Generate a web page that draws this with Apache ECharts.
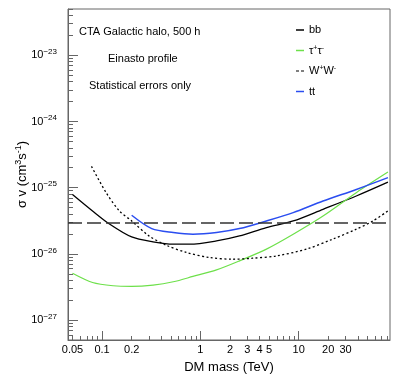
<!DOCTYPE html>
<html>
<head>
<meta charset="utf-8">
<script src="https://cdn.jsdelivr.net/npm/echarts@6/dist/echarts.min.js"></script>
<style>
  html, body { margin: 0; padding: 0; background: #fff; }
  #chart { width: 407px; height: 380px; }
</style>
</head>
<body>
<div id="chart"></div>
<script>
// values (mass in TeV, sigma v in cm^3 s^-1)
const bbMass = [0.05, 0.08, 0.12, 0.2, 0.33, 0.53, 0.78, 1.46, 2.5, 4.7, 8.8, 17.7, 38.6, 81];
const bbSv = [7.9e-26, 4.45e-26, 2.8e-26, 1.8e-26, 1.52e-26, 1.4e-26, 1.4e-26, 1.57e-26, 1.87e-26, 2.5e-26, 3.14e-26, 4.71e-26, 7.48e-26, 1.21e-25];

const tauMass = [0.05, 0.08, 0.13, 0.2, 0.33, 0.53, 0.84, 1.46, 2.5, 4.7, 8.8, 17.7, 38.6, 81];
const tauSv = [5.1e-27, 3.7e-27, 3.3e-27, 3.23e-27, 3.38e-27, 3.79e-27, 4.56e-27, 5.74e-27, 7.85e-27, 1.18e-26, 1.98e-26, 3.73e-26, 8.41e-26, 1.72e-25];

const wwMass = [0.078, 0.11, 0.15, 0.2, 0.3, 0.45, 0.72, 1.24, 2.15, 3.4, 5.9, 12, 22, 38.6, 57, 81];
const wwSv = [2.1e-25, 8.4e-26, 4.45e-26, 3.14e-26, 1.87e-26, 1.35e-26, 1.05e-26, 8.8e-27, 8.3e-27, 8.6e-27, 9.3e-27, 1.18e-26, 1.66e-26, 2.36e-26, 3.14e-26, 4.45e-26];

const ttMass = [0.2, 0.32, 0.53, 0.84, 1.46, 2.5, 4.7, 8.8, 17.7, 38.6, 81];
const ttSv = [3.83e-26, 2.41e-26, 2.1e-26, 1.98e-26, 2.1e-26, 2.41e-26, 3.14e-26, 4.2e-26, 6.28e-26, 9.41e-26, 1.42e-25];

const thermalSv = 3e-26;

const xLabels = [0.05, 0.1, 0.2, 1, 2, 3, 4, 5, 10, 20, 30];
const xMajor = [0.1, 1, 10];
const xMinor = [0.05, 0.06, 0.07, 0.08, 0.09, 0.2, 0.3, 0.4, 0.5, 0.6, 0.7, 0.8, 0.9,
  2, 3, 4, 5, 6, 7, 8, 9, 20, 30, 40, 50, 60, 70, 80];
const yDecades = [1e-27, 1e-26, 1e-25, 1e-24, 1e-23];
const yMinorSteps = [2, 3, 4, 5, 6, 7, 8, 9];

const legendText = {
  bb: '{n|bb}',
  tautau: '{n|τ}{p|+}{n|τ}{p|-}',
  WW: '{n|W}{p|+}{n|W}{p|-}',
  tt: '{n|tt}'
};

// echarts rounds numbers to 20 decimals, so 1e-27 would become 0:
// plot sigma v in units of 1e-28 and shift the exponent back in the labels
const Y_EXP = 28;
const Y_SCALE = Math.pow(10, Y_EXP);
const sy = v => v * Y_SCALE;

const X_MIN = 0.045, X_MAX = 85, Y_MIN = 5e-28, Y_MAX = 5e-23;
const FONT = 'Liberation Sans, Arial, Helvetica, sans-serif';
const AXIS_COLOR = '#666';

const yMinor = [];
[1e-28].concat(yDecades).forEach(d => {
  yMinorSteps.forEach(k => {
    const v = k * d;
    if (v > Y_MIN * 0.999 && v < Y_MAX * 1.001) yMinor.push(sy(v));
  });
});

const zip = (xs, ys) => xs.map((x, i) => [x, sy(ys[i])]);

const chart = echarts.init(document.getElementById('chart'));

const baseX = {
  type: 'log', min: X_MIN, max: X_MAX, gridIndex: 0, position: 'bottom',
  splitLine: { show: false }
};
const baseY = {
  type: 'log', min: sy(Y_MIN), max: sy(Y_MAX), gridIndex: 0, position: 'left',
  splitLine: { show: false }
};

chart.setOption({
  animation: false,
  backgroundColor: '#fff',
  grid: {
    left: 68, top: 9, right: 17, bottom: 40,
    show: true, borderColor: AXIS_COLOR, borderWidth: 1,
    containLabel: false, outerBoundsMode: 'none'
  },
  xAxis: [
    Object.assign({}, baseX, {
      name: 'DM mass (TeV)',
      nameLocation: 'middle',
      nameGap: 21,
      nameMoveOverlap: false,
      nameTextStyle: { fontFamily: FONT, fontSize: 13, color: '#000' },
      axisLine: { show: true, lineStyle: { color: AXIS_COLOR, width: 1 } },
      axisTick: { show: true, inside: true, length: 9, customValues: xMajor, lineStyle: { color: AXIS_COLOR } },
      axisLabel: {
        show: true, customValues: xLabels, margin: 4,
        fontFamily: FONT, fontSize: 11, color: '#000',
        formatter: v => String(+Number(v).toPrecision(3))
      }
    }),
    Object.assign({}, baseX, {
      axisLine: { show: false },
      axisTick: { show: true, inside: true, length: 4, customValues: xMinor, lineStyle: { color: AXIS_COLOR } },
      axisLabel: { show: false }
    })
  ],
  yAxis: [
    Object.assign({}, baseY, {
      name: '{a|σ v (cm}{s|3}{a|s}{s|-1}{a|)}',
      nameLocation: 'middle',
      nameGap: 38,
      nameMoveOverlap: false,
      nameRotate: 90,
      nameTextStyle: {
        fontFamily: FONT, color: '#000',
        rich: {
          a: { fontFamily: FONT, fontSize: 13, color: '#000' },
          s: { fontFamily: FONT, fontSize: 9, color: '#000', padding: [0, 0, 7, 0] }
        }
      },
      axisLine: { show: true, lineStyle: { color: AXIS_COLOR, width: 1 } },
      axisTick: { show: true, inside: true, length: 10, customValues: yDecades.map(sy), lineStyle: { color: AXIS_COLOR } },
      axisLabel: {
        show: true, customValues: yDecades.map(sy), margin: 11,
        formatter: v => '{a|10}{s|−' + Math.abs(Math.round(Math.log10(v)) - Y_EXP) + '}',
        rich: {
          a: { fontFamily: FONT, fontSize: 11, color: '#000' },
          s: { fontFamily: FONT, fontSize: 8, color: '#000', padding: [0, 0, 7, 0] }
        }
      }
    }),
    Object.assign({}, baseY, {
      axisLine: { show: false },
      axisTick: { show: true, inside: true, length: 5, customValues: yMinor, lineStyle: { color: AXIS_COLOR } },
      axisLabel: { show: false }
    })
  ],
  legend: {
    data: [
      { name: 'bb', icon: 'rect' },
      { name: 'tautau', icon: 'rect' },
      { name: 'WW', icon: 'path://M0,0H3V1H0Z M5,0H8V1H5Z' },
      { name: 'tt', icon: 'rect' }
    ],
    orient: 'vertical',
    left: 291, top: 19,
    itemWidth: 8, itemHeight: 1.5, itemGap: 8.5,
    formatter: name => legendText[name],
    textStyle: {
      fontFamily: FONT, fontSize: 11, color: '#000', lineHeight: 12,
      rich: {
        n: { fontFamily: FONT, fontSize: 11, color: '#000', lineHeight: 12 },
        p: { fontFamily: FONT, fontSize: 7, color: '#000', padding: [0, 0, 5, 0] }
      }
    }
  },
  graphic: [
    { type: 'text', left: 79, top: 26, style: { text: 'CTA Galactic halo, 500 h', font: '11px ' + FONT, fill: '#000' } },
    { type: 'text', left: 108, top: 53, style: { text: 'Einasto profile', font: '11px ' + FONT, fill: '#000' } },
    { type: 'text', left: 89, top: 80, style: { text: 'Statistical errors only', font: '11px ' + FONT, fill: '#000' } }
  ],
  series: [
    {
      name: 'bb', type: 'line', data: zip(bbMass, bbSv), symbol: 'none', smooth: 0.3,
      lineStyle: { color: '#000', width: 1.3 }, itemStyle: { color: '#000' },
      markLine: {
        silent: true, symbol: 'none', label: { show: false },
        lineStyle: { color: '#333', width: 1.5, type: [14, 5] },
        data: [{ yAxis: sy(thermalSv) }]
      }
    },
    {
      name: 'tautau', type: 'line', data: zip(tauMass, tauSv), symbol: 'none', smooth: 0.3,
      lineStyle: { color: '#6de04a', width: 1.2 }, itemStyle: { color: '#6de04a' }
    },
    {
      name: 'WW', type: 'line', data: zip(wwMass, wwSv), symbol: 'none', smooth: 0.3,
      lineStyle: { color: '#000', width: 1.3, type: [2, 2.5] }, itemStyle: { color: '#000' }
    },
    {
      name: 'tt', type: 'line', data: zip(ttMass, ttSv), symbol: 'none', smooth: 0.3,
      lineStyle: { color: '#2a4df0', width: 1.5 }, itemStyle: { color: '#2a4df0' }
    }
  ]
});
</script>
</body>
</html>
